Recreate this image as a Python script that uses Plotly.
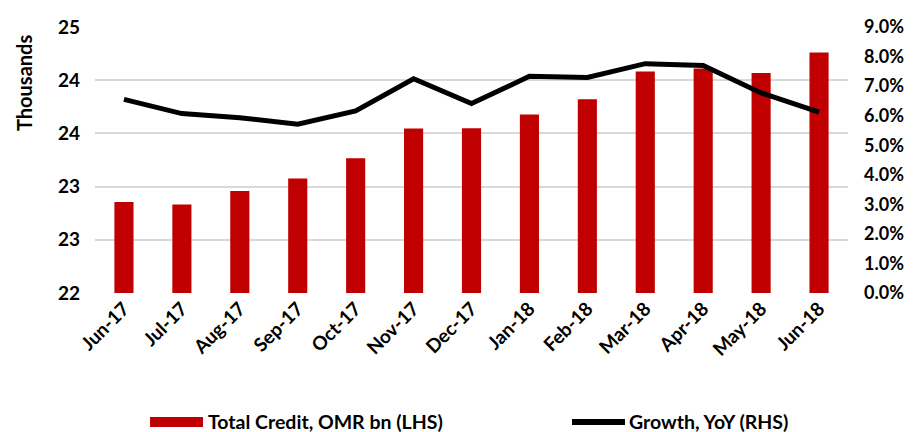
import plotly.graph_objects as go

months = ["Jun-17", "Jul-17", "Aug-17", "Sep-17", "Oct-17", "Nov-17", "Dec-17",
          "Jan-18", "Feb-18", "Mar-18", "Apr-18", "May-18", "Jun-18"]
total_credit = [23026, 22997, 23150, 23290, 23519, 23854, 23857,
                24012, 24185, 24497, 24531, 24481, 24711]
growth_yoy = [0.0655, 0.0607, 0.0593, 0.0571, 0.0616, 0.0725, 0.0641,
              0.0733, 0.0729, 0.0776, 0.0770, 0.0677, 0.0612]
left_ticks = [22000, 22600, 23200, 23800, 24400, 25000]
left_ticktext = [str(round(v / 1000)) for v in left_ticks]

bar_name = "Total Credit, OMR bn (LHS)"
line_name = "Growth, YoY (RHS)"
left_title = "Thousands"

FONT = "Lato"
RED = "#C00000"
FS = 19

# page body has an 8px margin; compensate so the plot lands where the reference has it
OFF = 8
PL, PR, PT, PB = 95, 848, 27, 293  # plot area in window pixels
W, H = 913 - OFF, 432 - OFF
pw, ph = PR - PL, PB - PT


def px_x(x):
    return (x - PL) / pw


def px_y(y):
    return (PB - y) / ph


fig = go.Figure()
fig.add_trace(go.Bar(x=months, y=total_credit, name=bar_name, marker_color=RED,
                     marker_line_width=0, yaxis="y", showlegend=False))
fig.add_trace(go.Scatter(x=months, y=growth_yoy, name=line_name, mode="lines",
                         line=dict(color="black", width=5), yaxis="y2", showlegend=False))

fig.update_layout(
    width=W, height=H,
    margin=dict(l=PL - OFF, r=913 - PR, t=PT - OFF, b=432 - PB, pad=0, autoexpand=False),
    plot_bgcolor="white", paper_bgcolor="white",
    bargap=0.67,
    font=dict(family=FONT, size=FS, color="black"),
    xaxis=dict(type="category", tickangle=-45, showgrid=False, ticks="",
               tickfont=dict(family=FONT, size=FS, color="black", weight="bold"),
               showline=False, automargin=False),
    yaxis=dict(range=[22000, 25000], tickvals=left_ticks, ticktext=left_ticktext,
               showgrid=True, gridcolor="#D9D9D9", gridwidth=1.5, zeroline=False,
               tickfont=dict(family=FONT, size=FS, color="black", weight="bold"),
               ticks="", ticklabelstandoff=14, automargin=False),
    yaxis2=dict(range=[0, 0.09], dtick=0.01, tickformat=".1%", overlaying="y",
                side="right", showgrid=False, zeroline=False, ticks="",
                tickfont=dict(family=FONT, size=18, color="black", weight="bold"),
                ticklabelstandoff=15, automargin=False),
)

# Axis title placed near the top, as in the reference
fig.add_annotation(text=left_title, xref="paper", yref="paper",
                   x=px_x(24), y=px_y(83), xanchor="center", yanchor="middle",
                   textangle=-90, showarrow=False,
                   font=dict(family=FONT, size=20, weight="bold"))

# Manual legend (wide swatches like the original)
LY = 422
fig.add_shape(type="rect", xref="paper", yref="paper",
              x0=px_x(150), x1=px_x(203), y0=px_y(427), y1=px_y(417),
              fillcolor=RED, line_width=0)
fig.add_annotation(text=bar_name, xref="paper", yref="paper",
                   x=px_x(206), y=px_y(LY), xanchor="left", yanchor="middle",
                   showarrow=False, font=dict(family=FONT, size=FS + 0.5, weight="bold"))
fig.add_shape(type="line", xref="paper", yref="paper",
              x0=px_x(572), x1=px_x(625), y0=px_y(LY), y1=px_y(LY),
              line=dict(color="black", width=6))
fig.add_annotation(text=line_name, xref="paper", yref="paper",
                   x=px_x(627), y=px_y(LY), xanchor="left", yanchor="middle",
                   showarrow=False, font=dict(family=FONT, size=FS + 0.5, weight="bold"))

fig.write_html("out.html")
